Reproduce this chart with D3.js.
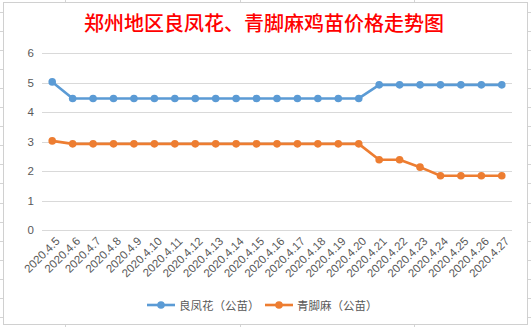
<!DOCTYPE html>
<html>
<head>
<meta charset="utf-8">
<script src="https://cdn.jsdelivr.net/npm/d3@7"></script>
<style>
  html, body { margin: 0; padding: 0; background: #fff; }
  svg { display: block; }
</style>
</head>
<body>
<svg id="chart" width="531" height="327"></svg>
<script>
const title = "郑州地区良凤花、青脚麻鸡苗价格走势图";
const categories = ["2020.4.5","2020.4.6","2020.4.7","2020.4.8","2020.4.9","2020.4.10","2020.4.11","2020.4.12","2020.4.13","2020.4.14","2020.4.15","2020.4.16","2020.4.17","2020.4.18","2020.4.19","2020.4.20","2020.4.21","2020.4.22","2020.4.23","2020.4.24","2020.4.25","2020.4.26","2020.4.27"];
const seriesNames = ["良凤花（公苗）", "青脚麻（公苗）"];
const liangfenghua = [5.02,4.46,4.46,4.46,4.46,4.46,4.46,4.46,4.46,4.46,4.46,4.46,4.46,4.46,4.46,4.46,4.92,4.92,4.92,4.92,4.92,4.92,4.92];
const qingjiaoma = [3.02,2.92,2.92,2.92,2.92,2.92,2.92,2.92,2.92,2.92,2.92,2.92,2.92,2.92,2.92,2.92,2.38,2.38,2.13,1.84,1.84,1.84,1.84];
const yTicks = [0,1,2,3,4,5,6];
const colors = ["#5B9BD5", "#ED7D31"];

const svg = d3.select("#chart");

// spreadsheet background grid
const sheet = svg.append("g");
const rowLines = d3.range(12, 327, 19.05);
sheet.selectAll("line.r").data(rowLines).enter().append("line")
  .attr("x1", 0).attr("x2", 531)
  .attr("y1", d => Math.round(d) + 0.5).attr("y2", d => Math.round(d) + 0.5)
  .attr("stroke", "#d4d4d4").attr("stroke-width", 1);
sheet.selectAll("line.c").data([65.5, 240.5, 414.5]).enter().append("line")
  .attr("x1", d => d).attr("x2", d => d)
  .attr("y1", 0).attr("y2", 327)
  .attr("stroke", "#d4d4d4").attr("stroke-width", 1);

// chart area
svg.append("rect")
  .attr("x", 3.5).attr("y", 2.5).attr("width", 524).attr("height", 322)
  .attr("fill", "#fff").attr("stroke", "#d0d0d0").attr("stroke-width", 1);

// title
svg.append("text")
  .attr("x", 264).attr("y", 31)
  .attr("text-anchor", "middle")
  .attr("font-family", "'Noto Sans CJK SC', sans-serif")
  .attr("font-size", 20)
  .attr("font-weight", 500)
  .attr("fill", "#FF0000")
  .text(title);

const plotLeft = 42, plotRight = 512;
const x = d3.scalePoint().domain(categories).range([plotLeft, plotRight]).padding(0.5);
const y = d3.scaleLinear().domain([0, 6]).range([230, 53]);

// gridlines
svg.append("g").selectAll("line").data(yTicks).enter().append("line")
  .attr("x1", plotLeft).attr("x2", plotRight)
  .attr("y1", d => Math.round(y(d)) + 0.5).attr("y2", d => Math.round(y(d)) + 0.5)
  .attr("stroke", "#d9d9d9").attr("stroke-width", 1);

// y axis labels
const yAxis = d3.axisLeft(y).tickValues(yTicks).tickSize(0).tickPadding(0).tickFormat(d3.format("d"));
const yg = svg.append("g").attr("transform", "translate(34,0)").call(yAxis);
yg.select(".domain").remove();
yg.selectAll("text")
  .attr("font-family", "'Liberation Sans', Arial, sans-serif")
  .attr("font-size", 11.5)
  .attr("fill", "#595959");

// x axis labels
const xAxis = d3.axisBottom(x).tickSize(0).tickPadding(0);
const xg = svg.append("g").attr("transform", "translate(0,239)").call(xAxis);
xg.select(".domain").remove();
xg.selectAll("text")
  .attr("font-family", "'Liberation Sans', Arial, sans-serif")
  .attr("font-size", 11.5)
  .attr("fill", "#595959")
  .attr("text-anchor", "end")
  .attr("dy", "0.35em")
  .attr("transform", "translate(5,0) rotate(-45)");

// series
const allSeries = [liangfenghua, qingjiaoma];
allSeries.forEach((vals, i) => {
  const line = d3.line().x((d, j) => x(categories[j])).y(d => y(d));
  svg.append("path").datum(vals)
    .attr("d", line)
    .attr("fill", "none")
    .attr("stroke", colors[i])
    .attr("stroke-width", 2.6)
    .attr("stroke-linejoin", "round");
  svg.append("g").selectAll("circle").data(vals).enter().append("circle")
    .attr("cx", (d, j) => x(categories[j]))
    .attr("cy", d => y(d))
    .attr("r", 3.8)
    .attr("fill", colors[i]);
});

// legend
const legendItems = [{x: 147, tx: 179}, {x: 265, tx: 297}];
legendItems.forEach((L, i) => {
  const g = svg.append("g");
  g.append("line").attr("x1", L.x).attr("x2", L.x + 28).attr("y1", 305).attr("y2", 305)
    .attr("stroke", colors[i]).attr("stroke-width", 2.6);
  g.append("circle").attr("cx", L.x + 14).attr("cy", 305).attr("r", 3.8).attr("fill", colors[i]);
  g.append("text").attr("x", L.tx).attr("y", 309.5)
    .attr("font-family", "'Noto Sans CJK SC', sans-serif")
    .attr("font-size", 11.5)
    .attr("fill", "#595959")
    .text(seriesNames[i]);
});
</script>
</body>
</html>
